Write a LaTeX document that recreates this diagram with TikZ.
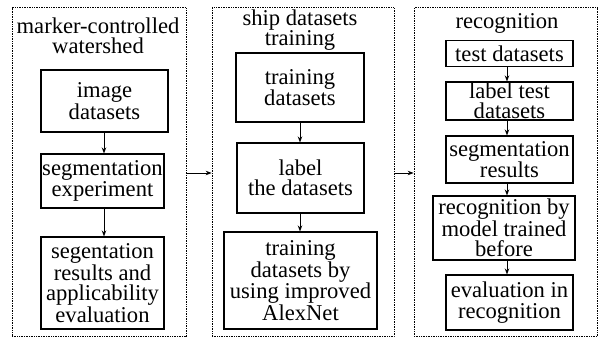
\documentclass[tikz,border=0pt]{standalone}
\usepackage{fontspec}
\setmainfont{Liberation Serif}
\usetikzlibrary{arrows.meta}
\begin{document}
\begin{tikzpicture}[x=1pt,y=-1pt,
  panel/.style={draw, densely dotted, line width=0.7pt, inner sep=0pt},
  stepbox/.style={draw, line width=1.1pt, inner sep=0pt, align=center, font=\fontsize{22.6}{20.5}\selectfont},
  ttl/.style={align=center, inner sep=0pt, font=\fontsize{22.6}{20.5}\selectfont},
  arr/.style={-{Stealth[length=6pt,width=4.5pt]}, line width=0.9pt}]
\useasboundingbox (0,0) rectangle (598,338);
% panels
\node[panel, minimum width=174pt, minimum height=329pt] (p1) at (99,172) {};
\node[panel, minimum width=182pt, minimum height=329pt] (p2) at (303,172) {};
\node[panel, minimum width=183pt, minimum height=329pt] (p3) at (505.5,172) {};
% titles
\node[ttl] (t1) at (98,36) {marker-controlled\\watershed};
\node[ttl] (t2) at (300,30) {ship datasets\\training};
\node[ttl] (t3) at (507,23) {recognition};
% panel 1
\node[stepbox, minimum width=127pt, minimum height=62pt] (a1) at (104.5,101) {image\\datasets};
\node[stepbox, minimum width=123pt, minimum height=54pt] (a2) at (102.5,181) {segmentation\\experiment};
\node[stepbox, minimum width=123pt, minimum height=92pt] (a3) at (102.5,283) {segentation\\results and\\applicability\\evaluation};
% panel 2
\node[stepbox, minimum width=128pt, minimum height=69pt] (b1) at (300,87.5) {training\\datasets};
\node[stepbox, minimum width=127pt, minimum height=70pt] (b2) at (300.5,178) {label\\the datasets};
\node[stepbox, minimum width=153pt, minimum height=97pt] (b3) at (300.5,280.5) {training\\datasets by\\using improved\\AlexNet};
% panel 3
\node[stepbox, minimum width=127pt, minimum height=26pt] (c1) at (509.5,53.5) {test datasets};
\node[stepbox, minimum width=127pt, minimum height=38pt] (c2) at (509.5,101) {label test\\datasets};
\node[stepbox, minimum width=127pt, minimum height=47pt] (c3) at (509.5,159.5) {segmentation\\results};
\node[stepbox, minimum width=142pt, minimum height=64pt] (c4) at (504,228) {recognition by\\model trained\\before};
\node[stepbox, minimum width=127pt, minimum height=55pt] (c5) at (509.5,302.5) {evaluation in\\recognition};
% arrows
\coordinate (x1) at (104,0);
\coordinate (x2) at (300,0);
\coordinate (x3) at (507,0);
\draw[arr] (x1 |- a1.south) -- (x1 |- a2.north);
\draw[arr] (x1 |- a2.south) -- (x1 |- a3.north);
\draw[arr] (x2 |- b1.south) -- (x2 |- b2.north);
\draw[arr] (x2 |- b2.south) -- (x2 |- b3.north);
\draw[arr] (x3 |- c1.south) -- (x3 |- c2.north);
\draw[arr] (x3 |- c2.south) -- (x3 |- c3.north);
\draw[arr] (x3 |- c3.south) -- (x3 |- c4.north);
\draw[arr] (x3 |- c4.south) -- (x3 |- c5.north);
\coordinate (y0) at (0,173);
\draw[arr] (y0 -| p1.east) -- (y0 -| p2.west);
\draw[arr] (y0 -| p2.east) -- (y0 -| p3.west);
\end{tikzpicture}
\end{document}
